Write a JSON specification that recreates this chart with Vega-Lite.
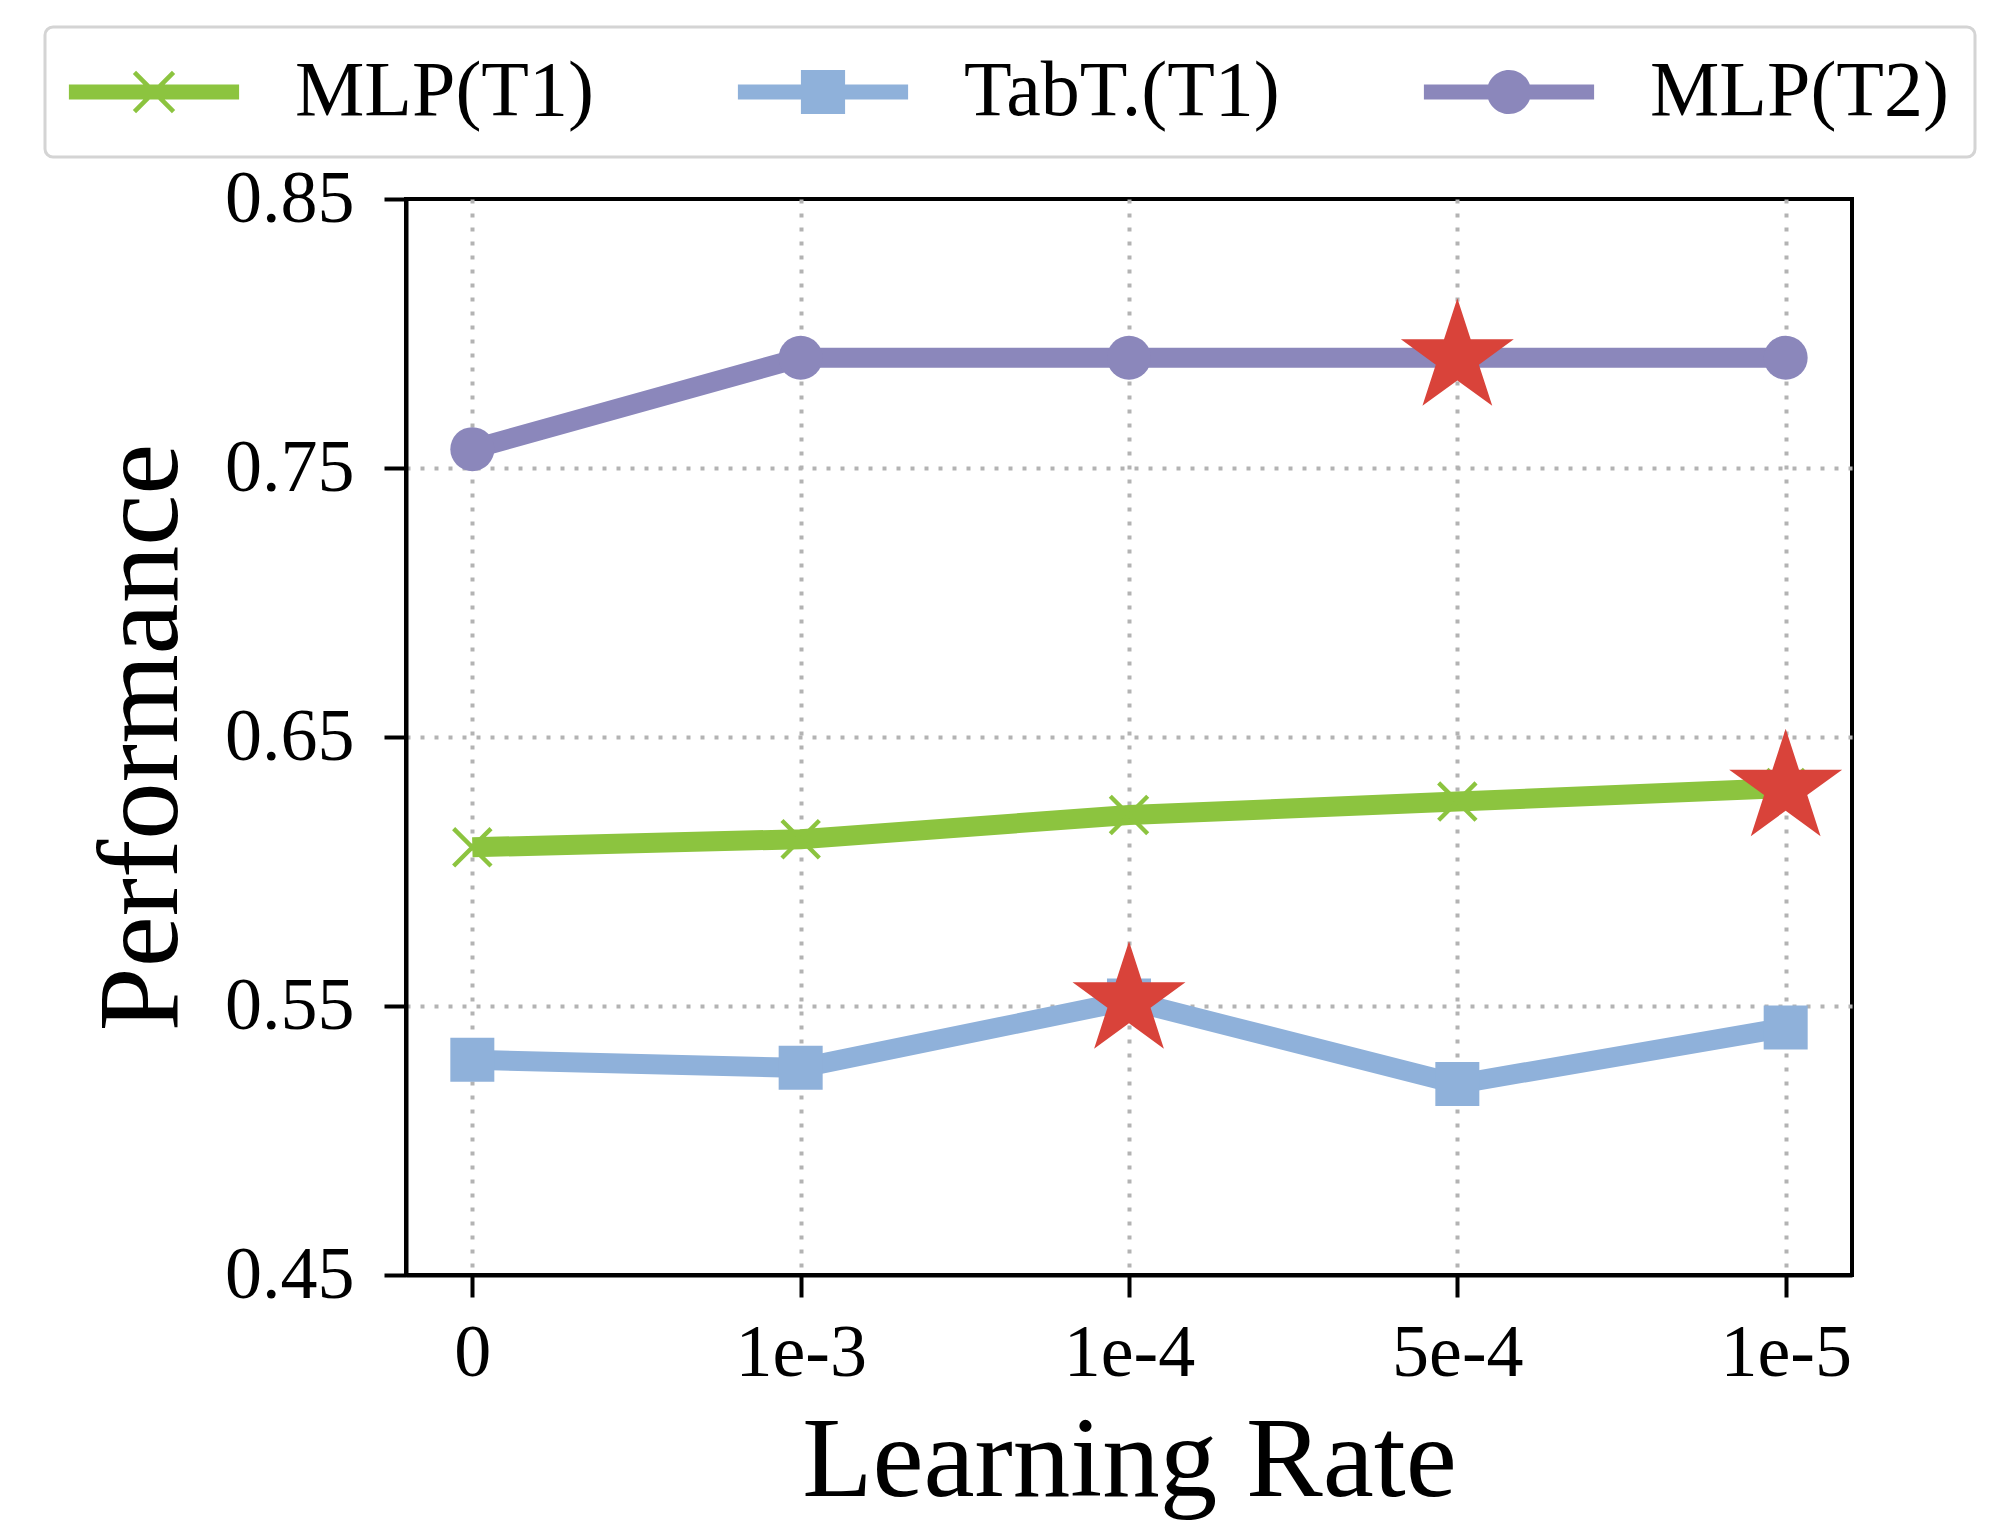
{
  "$schema": "https://vega.github.io/schema/vega-lite/v6.json",
  "width": 1446,
  "height": 1076,
  "autosize": {"type": "none"},
  "padding": {"left": 406, "top": 199, "right": 159, "bottom": 246},
  "background": "white",
  "data": {
    "values": [
      {"lr": "0", "series": "MLP(T1)", "perf": 0.609, "best": false},
      {"lr": "1e-3", "series": "MLP(T1)", "perf": 0.612, "best": false},
      {"lr": "1e-4", "series": "MLP(T1)", "perf": 0.621, "best": false},
      {"lr": "5e-4", "series": "MLP(T1)", "perf": 0.626, "best": false},
      {"lr": "1e-5", "series": "MLP(T1)", "perf": 0.631, "best": true},
      {"lr": "0", "series": "TabT.(T1)", "perf": 0.530, "best": false},
      {"lr": "1e-3", "series": "TabT.(T1)", "perf": 0.527, "best": false},
      {"lr": "1e-4", "series": "TabT.(T1)", "perf": 0.552, "best": true},
      {"lr": "5e-4", "series": "TabT.(T1)", "perf": 0.521, "best": false},
      {"lr": "1e-5", "series": "TabT.(T1)", "perf": 0.542, "best": false},
      {"lr": "0", "series": "MLP(T2)", "perf": 0.757, "best": false},
      {"lr": "1e-3", "series": "MLP(T2)", "perf": 0.791, "best": false},
      {"lr": "1e-4", "series": "MLP(T2)", "perf": 0.791, "best": false},
      {"lr": "5e-4", "series": "MLP(T2)", "perf": 0.791, "best": true},
      {"lr": "1e-5", "series": "MLP(T2)", "perf": 0.791, "best": false}
    ]
  },
  "encoding": {
    "x": {
      "field": "lr", "type": "ordinal",
      "scale": {"type": "point", "domain": ["0", "1e-3", "1e-4", "5e-4", "1e-5"], "padding": 0.202},
      "axis": {"title": "Learning Rate", "labelAngle": 0, "labelPadding": 20, "titlePadding": 14}
    },
    "y": {
      "field": "perf", "type": "quantitative",
      "scale": {"domain": [0.45, 0.85], "nice": false, "zero": false},
      "axis": {
        "title": "Performance",
        "values": [0.45, 0.55, 0.65, 0.75, 0.85],
        "format": ".2f",
        "labelPadding": 30,
        "titlePadding": 24,
        "gridOpacity": {"condition": {"test": "datum.value < 0.46 || datum.value > 0.84", "value": 0}, "value": 1}
      }
    }
  },
  "layer": [
    {
      "mark": {"type": "line", "strokeWidth": 20},
      "encoding": {
        "color": {
          "field": "series", "type": "nominal",
          "scale": {"domain": ["MLP(T1)", "TabT.(T1)", "MLP(T2)"], "range": ["#8cc43f", "#8fb1da", "#8b87bb"]},
          "legend": {
            "title": null,
            "orient": "none",
            "legendX": -361,
            "legendY": -172,
            "direction": "horizontal",
            "labelFont": "Liberation Serif",
            "labelFontSize": 78,
            "labelColor": "black",
            "labelLimit": 1000,
            "symbolSize": 2116,
            "symbolStrokeWidth": 0,
            "symbolOffset": 44,
            "labelOffset": 102,
            "columnPadding": 143,
            "padding": 26,
            "fillColor": "white",
            "strokeColor": "#d4d4d4",
            "cornerRadius": 8,
            "encode": {
              "legend": {"update": {"strokeWidth": {"value": 3}}},
              "symbols": {
                "update": {
                  "shape": {"signal": "datum.value === 'MLP(T1)' ? 'M-3.7,-0.33H3.7V0.33H-3.7Z M-0.78,-0.92L0.92,0.78L0.78,0.92L-0.92,-0.78Z M0.92,-0.78L-0.78,0.92L-0.92,0.78L0.78,-0.92Z' : (datum.value === 'TabT.(T1)' ? 'M-3.7,-0.33H3.7V0.33H-3.7Z M-0.96,-0.96H0.96V0.96H-0.96Z' : 'M-3.7,-0.33H3.7V0.33H-3.7Z M-0.96,0A0.96,0.96,0,1,1,0.96,0A0.96,0.96,0,1,1,-0.96,0Z')"},
                  "fill": {"signal": "datum.value === 'MLP(T1)' ? '#8cc43f' : (datum.value === 'TabT.(T1)' ? '#8fb1da' : '#8b87bb')"},
                  "stroke": {"value": "transparent"},
                  "strokeWidth": {"value": 0},
                  "opacity": {"value": 1}
                }
              }
            }
          }
        }
      }
    },
    {
      "transform": [{"filter": "datum.series === 'MLP(T1)'"}],
      "mark": {"type": "point", "filled": true, "opacity": 1, "size": 1936, "color": "#8cc43f", "shape": "M-0.78,-0.92L0.92,0.78L0.78,0.92L-0.92,-0.78Z M0.92,-0.78L-0.78,0.92L-0.92,0.78L0.78,-0.92Z"}
    },
    {
      "transform": [{"filter": "datum.series === 'TabT.(T1)'"}],
      "mark": {"type": "point", "filled": true, "opacity": 1, "size": 1936, "color": "#8fb1da", "shape": "square"}
    },
    {
      "transform": [{"filter": "datum.series === 'MLP(T2)'"}],
      "mark": {"type": "point", "filled": true, "opacity": 1, "size": 1936, "color": "#8b87bb", "shape": "circle"}
    },
    {
      "transform": [{"filter": "datum.best"}],
      "mark": {"type": "point", "shape": "M0,-1L0.2245,-0.309L0.9511,-0.309L0.3633,0.118L0.5878,0.809L0,0.382L-0.5878,0.809L-0.3633,0.118L-0.9511,-0.309L-0.2245,-0.309Z", "filled": true, "color": "#d9433a", "size": 14100, "opacity": 1}
    }
  ],
  "config": {
    "font": "Liberation Serif",
    "view": {"stroke": "black", "strokeWidth": 4},
    "axis": {
      "labelFont": "Liberation Serif",
      "labelFontSize": 74,
      "labelColor": "black",
      "titleFont": "Liberation Serif",
      "titleFontSize": 115,
      "titleFontWeight": "normal",
      "titleColor": "black",
      "domainColor": "black",
      "domainWidth": 4,
      "tickColor": "black",
      "tickWidth": 4,
      "tickSize": 22,
      "grid": true,
      "gridColor": "#b3b3b3",
      "gridWidth": 4,
      "gridDash": [4, 10]
    }
  }
}
